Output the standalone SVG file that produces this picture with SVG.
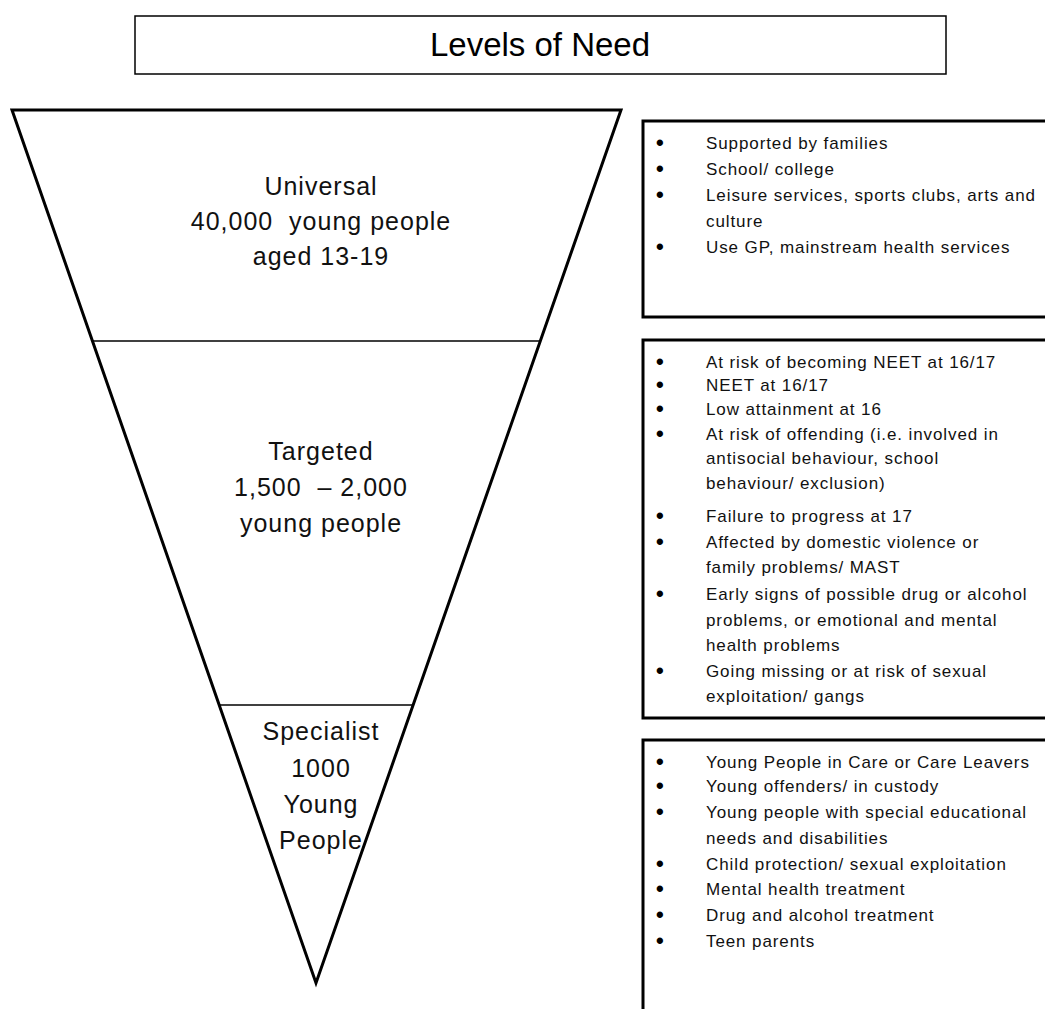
<svg xmlns="http://www.w3.org/2000/svg" width="1045" height="1009" viewBox="0 0 1045 1009">
<style>
.frame{fill:#fff;stroke:#000;stroke-width:3}
.thin{fill:none;stroke:#000;stroke-width:1.5}
.lvl{font-family:"Liberation Sans",Arial,sans-serif;font-size:25px;letter-spacing:1px;fill:#111;text-anchor:middle}
.li{font-family:"Liberation Sans",Arial,sans-serif;font-size:17px;letter-spacing:0.9px;fill:#111}
.bul{font-family:"Liberation Sans",Arial,sans-serif;font-size:22px;font-weight:bold;fill:#000}
.title{font-family:"Liberation Sans",Arial,sans-serif;font-size:33px;fill:#000;text-anchor:middle}
</style>
<rect width="1045" height="1009" fill="#fff"/>
<g id="title">
<rect x="135" y="16" width="811" height="58" fill="#fff" stroke="#000" stroke-width="1.5"/>
<text class="title" x="540" y="56">Levels of Need</text>
</g>
<g id="pyramid">
<polygon class="frame" points="12,110 621,110 316,983" stroke-linejoin="miter"/>
</g>
<g id="connectors">
<line class="thin" x1="93" y1="341" x2="539" y2="341"/>
<line class="thin" x1="220" y1="705" x2="413" y2="705"/>
</g>
<g id="universal">
<text class="lvl" x="321" y="195">Universal</text>
<text class="lvl" x="321" y="230" xml:space="preserve">40,000  young people</text>
<text class="lvl" x="321" y="265">aged 13-19</text>
</g>
<g id="targeted">
<text class="lvl" x="321" y="460">Targeted</text>
<text class="lvl" x="321" y="496" xml:space="preserve">1,500  – 2,000</text>
<text class="lvl" x="321" y="532">young people</text>
</g>
<g id="specialist">
<text class="lvl" x="321" y="740">Specialist</text>
<text class="lvl" x="321" y="777">1000</text>
<text class="lvl" x="321" y="813">Young</text>
<text class="lvl" x="321" y="849">People</text>
</g>
<g id="box-universal">
<rect class="frame" x="643" y="121" width="410" height="196"/>
<text class="bul" x="656" y="150">•</text><text class="li" x="706" y="149">Supported by families</text>
<text class="bul" x="656" y="176">•</text><text class="li" x="706" y="175">School/ college</text>
<text class="bul" x="656" y="202">•</text><text class="li" x="706" y="201">Leisure services, sports clubs, arts and</text>
<text class="li" x="706" y="227">culture</text>
<text class="bul" x="656" y="254">•</text><text class="li" x="706" y="253">Use GP, mainstream health services</text>
</g>
<g id="box-targeted">
<rect class="frame" x="643" y="340" width="410" height="378"/>
<text class="bul" x="656" y="369">•</text><text class="li" x="706" y="368">At risk of becoming NEET at 16/17</text>
<text class="bul" x="656" y="392">•</text><text class="li" x="706" y="391">NEET at 16/17</text>
<text class="bul" x="656" y="416">•</text><text class="li" x="706" y="415">Low attainment at 16</text>
<text class="bul" x="656" y="441">•</text><text class="li" x="706" y="440">At risk of offending (i.e. involved in</text>
<text class="li" x="706" y="464">antisocial behaviour, school</text>
<text class="li" x="706" y="489">behaviour/ exclusion)</text>
<text class="bul" x="656" y="523">•</text><text class="li" x="706" y="522">Failure to progress at 17</text>
<text class="bul" x="656" y="549">•</text><text class="li" x="706" y="548">Affected by domestic violence or</text>
<text class="li" x="706" y="573">family problems/ MAST</text>
<text class="bul" x="656" y="601">•</text><text class="li" x="706" y="600">Early signs of possible drug or alcohol</text>
<text class="li" x="706" y="626">problems, or emotional and mental</text>
<text class="li" x="706" y="651">health problems</text>
<text class="bul" x="656" y="678">•</text><text class="li" x="706" y="677">Going missing or at risk of sexual</text>
<text class="li" x="706" y="702">exploitation/ gangs</text>
</g>
<g id="box-specialist">
<rect class="frame" x="643" y="740" width="410" height="280"/>
<text class="bul" x="656" y="769">•</text><text class="li" x="706" y="768">Young People in Care or Care Leavers</text>
<text class="bul" x="656" y="793">•</text><text class="li" x="706" y="792">Young offenders/ in custody</text>
<text class="bul" x="656" y="819">•</text><text class="li" x="706" y="818">Young people with special educational</text>
<text class="li" x="706" y="844">needs and disabilities</text>
<text class="bul" x="656" y="871">•</text><text class="li" x="706" y="870">Child protection/ sexual exploitation</text>
<text class="bul" x="656" y="896">•</text><text class="li" x="706" y="895">Mental health treatment</text>
<text class="bul" x="656" y="922">•</text><text class="li" x="706" y="921">Drug and alcohol treatment</text>
<text class="bul" x="656" y="948">•</text><text class="li" x="706" y="947">Teen parents</text>
</g>
</svg>
